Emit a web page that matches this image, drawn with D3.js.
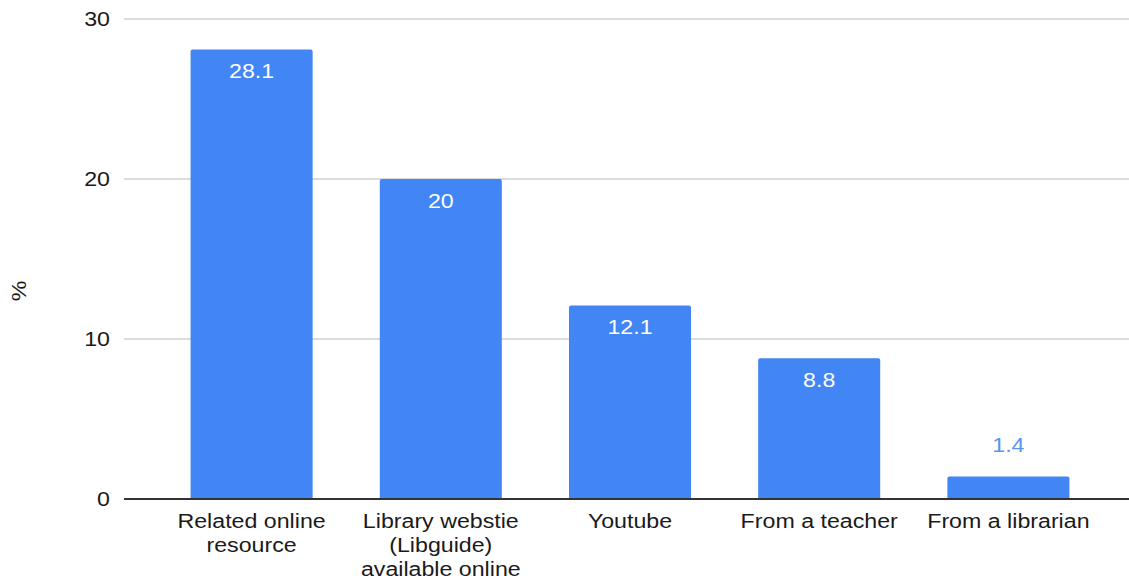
<!DOCTYPE html>
<html>
<head>
<meta charset="utf-8">
<script src="https://cdn.jsdelivr.net/npm/d3@7/dist/d3.min.js"></script>
<style>
  body { margin: 0; background: #fff; }
  svg { display: block; font-family: "Liberation Sans", Arial, sans-serif; }
</style>
</head>
<body>
<svg id="chart" width="1129" height="579"></svg>
<script>
const categories = ["Related online resource", "Library webstie (Libguide) available online", "Youtube", "From a teacher", "From a librarian"];
const values = [28.1, 20, 12.1, 8.8, 1.4];
const valueLabels = ["28.1", "20", "12.1", "8.8", "1.4"];
const yTicks = [0, 10, 20, 30];
const yAxisTitle = "%";

const svg = d3.select("#chart");
const gridLeft = 124, gridRight = 1129;
const FS = 20, SX = 1.16;
const y = d3.scaleLinear().domain([0, 30]).range([499, 19]);
const x = d3.scaleBand().domain(categories).range([157, 1103]).paddingInner(0.355).paddingOuter(0.1775);

const barColor = "#4285f4";
const textColor = "#1a1a1a";

// helper: horizontally stretched text placed at (px, py)
function stretched(g, px, py, anchor) {
  return g.append("text")
    .attr("transform", `translate(${px},${py}) scale(${SX},1)`)
    .attr("x", 0).attr("y", 0)
    .attr("text-anchor", anchor).attr("font-size", FS);
}

// gridlines
svg.append("g").selectAll("line").data(yTicks.filter(d => d !== 0)).join("line")
  .attr("x1", gridLeft).attr("x2", gridRight)
  .attr("y1", d => y(d)).attr("y2", d => y(d))
  .attr("stroke", "#d0d0d0").attr("stroke-width", 1.5);

// y tick labels
const yg = svg.append("g");
yTicks.forEach(t => {
  stretched(yg, 110, y(t) + 7, "end").attr("fill", textColor).text(t);
});

// y axis title
svg.append("text")
  .attr("transform", `translate(26,${y(13)}) rotate(-90) scale(${SX},1)`)
  .attr("text-anchor", "middle").attr("font-size", FS).attr("fill", textColor)
  .text(yAxisTitle);

// bars
svg.append("g").selectAll("path").data(values).join("path")
  .attr("fill", barColor)
  .attr("d", (d, i) => {
    const x0 = x(categories[i]), w = x.bandwidth(), y0 = y(d), y1 = y(0), r = 2;
    return `M${x0},${y1}V${y0 + r}Q${x0},${y0} ${x0 + r},${y0}H${x0 + w - r}Q${x0 + w},${y0} ${x0 + w},${y0 + r}V${y1}Z`;
  });

// value labels
const vg = svg.append("g");
values.forEach((d, i) => {
  const inside = (y(0) - y(d)) > 40;
  stretched(vg, x(categories[i]) + x.bandwidth() / 2, inside ? y(d) + 29 : y(d) - 25, "middle")
    .attr("fill", inside ? "#ffffff" : "#5a95f5")
    .text(valueLabels[i]);
});

// baseline
svg.append("line")
  .attr("x1", gridLeft).attr("x2", gridRight)
  .attr("y1", y(0)).attr("y2", y(0))
  .attr("stroke", "#333").attr("stroke-width", 2);

// category labels with wrapping
function wrapWords(text, maxW, measure) {
  const words = text.split(" ");
  const lines = [];
  let cur = "";
  words.forEach(w => {
    const test = cur ? cur + " " + w : w;
    if (measure(test) > maxW && cur) { lines.push(cur); cur = w; }
    else cur = test;
  });
  if (cur) lines.push(cur);
  return lines;
}
const measurer = svg.append("text").attr("font-size", FS).attr("visibility", "hidden");
const measure = s => { measurer.text(s); return measurer.node().getComputedTextLength() * SX; };

const catG = svg.append("g");
categories.forEach(c => {
  const lines = wrapWords(c, 180, measure);
  const t = stretched(catG, x(c) + x.bandwidth() / 2, 528, "middle").attr("fill", textColor);
  lines.forEach((l, j) => {
    t.append("tspan").attr("x", 0).attr("y", j * 24).text(l);
  });
});
measurer.remove();
</script>
</body>
</html>
